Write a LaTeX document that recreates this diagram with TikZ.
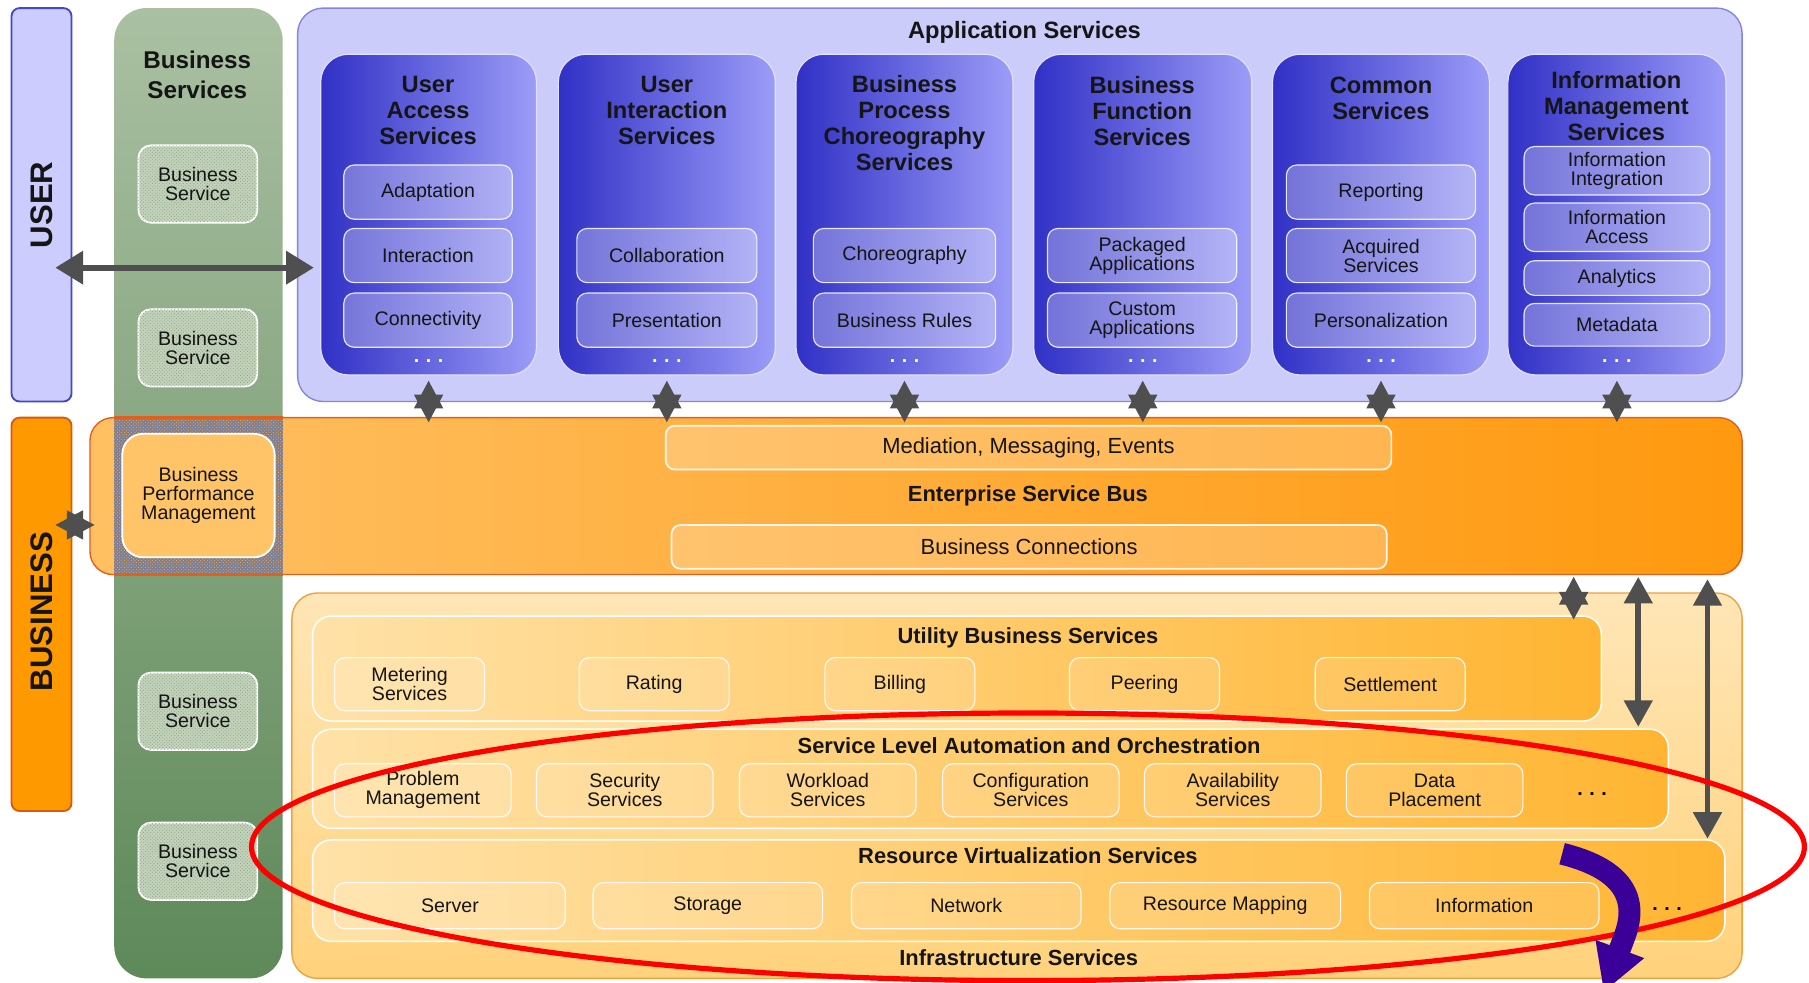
\documentclass[tikz,border=0pt]{standalone}
\usepackage{fontspec}
\setmainfont{Liberation Sans}
\usetikzlibrary{arrows.meta,patterns,shapes.geometric}
\definecolor{userfill}{HTML}{CCCCFF}
\definecolor{userdraw}{HTML}{4646CC}
\definecolor{appfill}{HTML}{CCCCFA}
\definecolor{appdraw}{HTML}{8585E0}
\definecolor{coldark}{HTML}{3030C6}
\definecolor{collight}{HTML}{9C9CF8}
\definecolor{bizorange}{HTML}{FF9900}
\definecolor{bizdraw}{HTML}{D85A10}
\definecolor{greentop}{HTML}{AAC0A2}
\definecolor{greenbot}{HTML}{5E8959}
\definecolor{bsfill}{HTML}{C3D3BB}
\definecolor{bspat}{HTML}{8FA486}
\definecolor{esbleft}{HTML}{FFC063}
\definecolor{esbright}{HTML}{FF990F}
\definecolor{esbdraw}{HTML}{E0601E}
\definecolor{patgray}{HTML}{7C7E94}
\definecolor{patorange}{HTML}{F6AE50}
\definecolor{bpmfill}{HTML}{FFC468}
\definecolor{infratop}{HTML}{FFE6B6}
\definecolor{infrabot}{HTML}{FFD27C}
\definecolor{infradraw}{HTML}{F0A040}
\definecolor{layleft}{HTML}{FFE2A8}
\definecolor{layright}{HTML}{FFB532}
\definecolor{arrowgray}{HTML}{4F4F4F}
\definecolor{ellred}{HTML}{FF0000}
\definecolor{purplearrow}{HTML}{3A0098}
\definecolor{txt}{HTML}{151515}
\tikzset{
  fitbox/.style={inner sep=0pt, outer sep=0pt},
  sidebar/.style={fitbox, rounded corners=7pt, line width=1.6pt},
  sidetext/.style={rotate=90, text=txt, font={\fontsize{27}{27}\selectfont\bfseries}},
  bigtitle/.style={align=center, text=txt, font={\fontsize{21}{26}\selectfont\bfseries}},
  coltitle/.style={align=center, text=txt, font={\fontsize{20.5}{22.5}\selectfont\bfseries}},
  headtitle/.style={text=txt, font={\fontsize{19}{21}\selectfont\bfseries}},
  lbl/.style={align=center, text=txt, font={\fontsize{17}{16.5}\selectfont}},
  colbox/.style={fitbox, rounded corners=24pt, left color=coldark, right color=collight, draw=white!70!collight, line width=1pt},
  appitem/.style={fitbox, lbl, rounded corners=9pt, fill=white, fill opacity=0.3, draw=white, draw opacity=0.85, line width=1pt, text opacity=1},
  bsbox/.style={fitbox, lbl, rounded corners=11pt, fill=bsfill, draw=white, line width=1.6pt, postaction={pattern=crosshatch dots, pattern color=bspat}},
  layer/.style={fitbox, rounded corners=16pt, left color=layleft, right color=layright, draw=white, line width=1.3pt},
  oitem/.style={fitbox, lbl, rounded corners=9pt, fill=white, fill opacity=0.13, draw=white, draw opacity=0.9, line width=1pt, text opacity=1},
  esbitem/.style={fitbox, align=center, text=txt, font={\fontsize{19}{19}\selectfont}, rounded corners=8pt, fill=white, fill opacity=0.22, draw=white, draw opacity=0.9, line width=1.5pt, text opacity=1},
  moredots/.style={text=white, font={\fontsize{17}{17}\selectfont\bfseries}},
  blackdots/.style={text=black, font={\fontsize{17}{17}\selectfont\bfseries}},
  starlink/.style={draw=arrowgray, line width=2pt, {Triangle[width=25pt,length=24pt]}-{Triangle[width=25pt,length=24pt]}},
  dbllink/.style={draw=arrowgray, line width=5pt, {Triangle[width=24pt,length=23pt]}-{Triangle[width=24pt,length=23pt]}},
  biglink/.style={draw=arrowgray, line width=5pt, {Triangle[width=28pt,length=24pt]}-{Triangle[width=28pt,length=24pt]}},
}
% box from corner (x1,y1) to (x2,y2), y measured downwards
\newcommand\bx[7][]{%
  \pgfmathsetmacro\bxw{#5-#3}%
  \pgfmathsetmacro\bxh{#6-#4}%
  \pgfmathsetmacro\bxcx{(#3+#5)/2}%
  \pgfmathsetmacro\bxcy{(#4+#6)/2}%
  \node[#1, minimum width=\bxw pt, minimum height=\bxh pt] (#2) at (\bxcx,\bxcy) {#7};}
\begin{document}
\begin{tikzpicture}[x=1pt,y=-1pt]
\useasboundingbox (0,0) rectangle (1568,852);
\fill[white] (0,0) rectangle (1568,852);

% ---------- side bars
\bx[sidebar, fill=userfill, draw=userdraw]{user}{10}{7}{62}{348}{}
\node[sidetext] (usertext) at (user.center) {USER};
\bx[sidebar, fill=bizorange, draw=bizdraw]{biz}{10}{362}{62}{703}{}
\node[sidetext] (biztext) at (36,530) {BUSINESS};

% ---------- business services column
\bx[fitbox, rounded corners=28pt, top color=greentop, bottom color=greenbot]{bscol}{99}{7}{245}{848}{}
\node[bigtitle] (bstitle) at (171,65) {Business\\Services};
\bx[bsbox]{bs1}{120}{126}{223}{193}{Business\\Service}
\bx[bsbox]{bs2}{120}{268}{223}{335}{Business\\Service}
\bx[bsbox]{bs3}{120}{583}{223}{650}{Business\\Service}
\bx[bsbox]{bs4}{120}{713}{223}{780}{Business\\Service}

% ---------- application services
\bx[fitbox, rounded corners=22pt, fill=appfill, draw=appdraw, line width=1.2pt]{app}{258}{7}{1510}{348}{}
\node[coltitle] (apptitle) at (888,28) {Application Services};

\bx[colbox]{c1}{278}{47}{465}{325}{}
\bx[colbox]{c2}{484}{47}{672}{325}{}
\bx[colbox]{c3}{690}{47}{878}{325}{}
\bx[colbox]{c4}{896}{47}{1085}{325}{}
\bx[colbox]{c5}{1103}{47}{1291}{325}{}
\bx[colbox]{c6}{1307}{47}{1496}{325}{}

\node[coltitle] (t1) at (371,96) {User\\Access\\Services};
\node[coltitle] (t2) at (578,96) {User\\Interaction\\Services};
\node[coltitle] (t3) at (784,107) {Business\\Process\\Choreography\\Services};
\node[coltitle] (t4) at (990,96) {Business\\Function\\Services};
\node[coltitle] (t5) at (1197,85) {Common\\Services};
\node[coltitle] (t6) at (1401,92) {Information\\Management\\Services};

\bx[appitem]{a11}{298}{143}{444}{190}{Adaptation}
\bx[appitem]{a12}{298}{198}{444}{245}{Interaction}
\bx[appitem]{a13}{298}{254}{444}{301}{Connectivity}
\bx[appitem]{a21}{500}{198}{656}{245}{Collaboration}
\bx[appitem]{a22}{500}{254}{656}{301}{Presentation}
\bx[appitem]{a31}{705}{198}{863}{245}{Choreography}
\bx[appitem]{a32}{705}{254}{863}{301}{Business Rules}
\bx[appitem]{a41}{908}{198}{1072}{245}{Packaged\\Applications}
\bx[appitem]{a42}{908}{254}{1072}{301}{Custom\\Applications}
\bx[appitem]{a51}{1115}{143}{1279}{190}{Reporting}
\bx[appitem]{a52}{1115}{198}{1279}{245}{Acquired\\Services}
\bx[appitem]{a53}{1115}{254}{1279}{301}{Personalization}
\bx[appitem]{a61}{1321}{127}{1482}{169}{Information\\Integration}
\bx[appitem]{a62}{1321}{176}{1482}{218}{Information\\Access}
\bx[appitem]{a63}{1321}{226}{1482}{256}{Analytics}
\bx[appitem]{a64}{1321}{263}{1482}{300}{Metadata}

\foreach \c in {c1,c2,c3,c4,c5,c6}{
  \node[moredots] (\c dots) at ([yshift=12pt]\c.south) {.\,\,.\,\,.};
}

% ---------- enterprise service bus
\bx[fitbox, rounded corners=20pt, left color=esbleft, right color=esbright, draw=esbdraw, line width=1.2pt]{esb}{78}{362}{1510}{498}{}
\bx[fitbox, fill=patgray, postaction={pattern=crosshatch dots, pattern color=patorange}]{bpmzone}{99}{362}{245}{498}{}
\draw[esbdraw, line width=2pt] (bpmzone.north west) -- (bpmzone.north east);
\draw[esbdraw, line width=2pt] (bpmzone.south west) -- (bpmzone.south east);
\bx[fitbox, lbl, rounded corners=18pt, fill=bpmfill, draw=white, line width=1.6pt]{bpm}{106}{376}{238}{483}{Business\\Performance\\Management}
\bx[esbitem]{mme}{577}{369}{1206}{407}{Mediation, Messaging, Events}
\node[headtitle] (esbtitle) at (891,430) {Enterprise Service Bus};
\bx[esbitem]{bcon}{582}{455}{1202}{493}{Business Connections}

% ---------- infrastructure services
\bx[fitbox, rounded corners=22pt, top color=infratop, bottom color=infrabot, draw=infradraw, line width=1.2pt]{infra}{253}{514}{1510}{848}{}
\node[headtitle] (infratitle) at (883,830) {Infrastructure Services};

\bx[layer]{ubs}{271}{534}{1388}{625}{}
\node[headtitle] (ubstitle) at (891,553) {Utility Business Services};
\bx[oitem]{u1}{290}{570}{420}{616}{Metering\\Services}
\bx[oitem]{u2}{502}{570}{632}{616}{Rating}
\bx[oitem]{u3}{715}{570}{845}{616}{Billing}
\bx[oitem]{u4}{927}{570}{1057}{616}{Peering}
\bx[oitem]{u5}{1140}{570}{1270}{616}{Settlement}

\bx[layer]{slao}{271}{632}{1446}{718}{}
\node[headtitle] (slaotitle) at (892,646) {Service Level Automation and Orchestration};
\bx[oitem]{s1}{290}{662}{443}{708}{Problem\\Management}
\bx[oitem]{s2}{465}{662}{618}{708}{Security\\Services}
\bx[oitem]{s3}{641}{662}{794}{708}{Workload\\Services}
\bx[oitem]{s4}{817}{662}{970}{708}{Configuration\\Services}
\bx[oitem]{s5}{992}{662}{1145}{708}{Availability\\Services}
\bx[oitem]{s6}{1167}{662}{1320}{708}{Data\\Placement}
\node[blackdots] (sdots) at (1380,688) {.\,\,.\,\,.};

\bx[layer]{rvs}{271}{728}{1495}{816}{}
\node[headtitle] (rvstitle) at (891,742) {Resource Virtualization Services};
\bx[oitem]{r1}{290}{765}{490}{805}{Server}
\bx[oitem]{r2}{514}{765}{713}{805}{Storage}
\bx[oitem]{r3}{738}{765}{937}{805}{Network}
\bx[oitem]{r4}{962}{765}{1162}{805}{Resource Mapping}
\bx[oitem]{r5}{1187}{765}{1386}{805}{Information}
\node[blackdots] (rdots) at (1445,788) {.\,\,.\,\,.};

% ---------- connectors
\coordinate (ua) at (48,232);
\draw[biglink] (ua) -- ([xshift=14pt]app.west |- ua);
\coordinate (ls) at (48,455);
\draw[starlink] (ls) -- ([xshift=4pt]esb.west |- ls);
\foreach \c in {c1,c2,c3,c4,c5,c6}{
  \draw[starlink] ([yshift=-5pt]\c.south) -- ([yshift=-4pt]esb.north -| \c.south);
}
\coordinate (rx1) at (1364,0);
\coordinate (rx2) at (1420,0);
\coordinate (rx3) at (1480,0);
\draw[starlink] ([yshift=-2pt]esb.south -| rx1) -- ([yshift=-3pt]ubs.north -| rx1);
\draw[dbllink] ([yshift=-2pt]esb.south -| rx2) -- ([yshift=2pt]slao.north -| rx2);
\draw[dbllink] ([yshift=-4pt]esb.south -| rx3) -- ([yshift=1pt]rvs.north -| rx3);

% ---------- highlight ellipse and curved arrow
\node[ellipse, draw=ellred, line width=4.5pt, inner sep=0pt, minimum width=1346pt, minimum height=232pt] (ring) at (891,734) {};
\coordinate (pa1) at (1354,740);
\coordinate (pa2) at (1408,812);
\coordinate (pa3) at (1390,860);
\draw[purplearrow, line width=19pt, -{Triangle[width=42pt,length=40pt]}] (pa1) .. controls (1402,752) and (1422,775) .. (pa2) -- (pa3);
\end{tikzpicture}
\end{document}
